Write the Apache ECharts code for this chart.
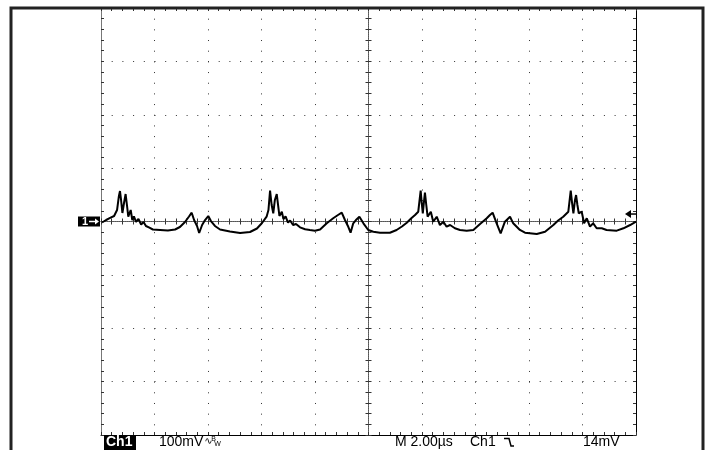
<!DOCTYPE html>
<html>
<head>
<meta charset="utf-8">
<script src="https://cdn.jsdelivr.net/npm/echarts@6/dist/echarts.min.js"></script>
<style>
  html, body { margin: 0; padding: 0; background: #fff; }
  #scope { width: 709px; height: 450px; }
</style>
</head>
<body>
<div id="scope"></div>
<script>
// Channel 1 capture: time in microseconds, voltage in millivolts
const timeUs = [
  0.04, 0.19, 0.34, 0.49, 0.60, 0.67, 0.71, 0.75, 0.80, 0.86,
  0.92, 0.97, 1.02, 1.11, 1.17, 1.23, 1.31, 1.40, 1.50, 1.59,
  1.68, 1.79, 1.94, 2.21, 2.50, 2.77, 2.95, 3.14, 3.29, 3.39,
  3.48, 3.59, 3.67, 3.78, 3.89, 4.01, 4.11, 4.26, 4.45, 4.82,
  5.20, 5.57, 5.83, 6.02, 6.19, 6.26, 6.32, 6.38, 6.44, 6.50,
  6.57, 6.62, 6.67, 6.76, 6.82, 6.90, 6.99, 7.07, 7.18, 7.29,
  7.44, 7.63, 7.81, 8.00, 8.19, 8.44, 8.68, 8.86, 9.00, 9.12,
  9.23, 9.33, 9.43, 9.53, 9.66, 9.81, 9.99, 10.18, 10.43, 10.80,
  11.05, 11.25, 11.43, 11.59, 11.74, 11.86, 11.95, 11.99, 12.03, 12.08,
  12.11, 12.16, 12.21, 12.33, 12.42, 12.55, 12.67, 12.80, 12.92, 13.05,
  13.23, 13.42, 13.67, 13.92, 14.17, 14.42, 14.54, 14.64, 14.79, 14.94,
  15.10, 15.29, 15.41, 15.66, 15.85, 16.29, 16.60, 16.91, 17.09, 17.28,
  17.47, 17.56, 17.61, 17.66, 17.72, 17.76, 17.81, 17.86, 17.97, 18.06,
  18.16, 18.28, 18.40, 18.53, 18.72, 18.90, 19.28, 19.53, 19.78, 20.00
];
const voltsMv = [
  -1.9, 2.8, 6.6, 10.3, 21.5, 47.8, 57.1, 40.3, 15.9, 34.7,
  51.5, 30.9, 9.0, 21.5, 2.8, 9.4, -0.9, 4.7, -5.6, -0.9,
  -8.4, -11.2, -15.0, -15.9, -16.9, -15.0, -10.3, -0.9, 9.4, 16.5,
  2.8, -8.4, -21.5, -6.6, 2.8, 10.3, 0.9, -8.4, -15.0, -18.7,
  -21.5, -19.7, -13.1, -2.8, 9.0, 21.5, 57.7, 30.9, 15.4, 40.3,
  51.5, 30.9, 10.3, 18.4, 4.7, 9.4, -1.9, 1.9, -6.6, -4.7,
  -10.9, -14.6, -15.9, -17.2, -15.0, -3.4, 6.0, 12.2, 16.5, 2.8,
  -8.4, -21.0, -3.4, 2.8, 9.0, -3.4, -15.9, -19.1, -21.0, -21.0,
  -15.9, -9.4, -2.2, 5.6, 12.2, 18.4, 57.7, 34.7, 15.4, 40.3,
  54.0, 30.9, 9.0, 18.4, -0.4, 9.0, -6.6, -0.4, -9.7, -6.6,
  -12.7, -15.9, -17.2, -15.9, -4.7, 6.0, 12.2, 16.5, -3.4, -22.1,
  -0.4, 9.0, -3.4, -15.9, -21.0, -23.4, -19.1, -6.6, 1.9, 9.0,
  18.4, 57.7, 34.7, 15.4, 40.3, 49.6, 30.9, 15.4, 18.4, -3.4,
  6.0, -9.7, -3.4, -12.7, -12.7, -15.9, -17.2, -12.7, -6.6, -0.4
];

// Scope settings shown in the readout
const channelName = 'Ch1';
const voltsPerDiv = 100;   // mV
const timePerDiv = 2;      // µs
const triggerLevel = 14;   // mV
const hDivs = 10;
const vDivs = 8;

const scaleText = voltsPerDiv + 'mV';
const timebaseText = 'M ' + timePerDiv.toFixed(2) + 'µs';
const triggerText = triggerLevel + 'mV';

const GRID = { left: 101, top: 8, width: 535, height: 427 };
const INK = '#333';
const DOT = [1, GRID.height / (vDivs * 5) - 1];
const DOT_H = [1, GRID.width / (hDivs * 5) - 1];

const tMax = hDivs * timePerDiv;
const vMax = vDivs / 2 * voltsPerDiv;

const chart = echarts.init(document.getElementById('scope'), null, { renderer: 'canvas' });

function edgeX(pos, line) {
  return {
    gridIndex: 0, type: 'value', min: 0, max: tMax, interval: timePerDiv, position: pos,
    axisLine: line ? { show: true, onZero: false, lineStyle: { color: '#000', width: 1 } } : { show: false, onZero: false },
    axisTick: { show: true, inside: true, length: 3, lineStyle: { color: INK } },
    minorTick: { show: true, splitNumber: 5, length: 3, lineStyle: { color: INK } },
    axisLabel: { show: false },
    splitLine: { show: pos === 'bottom', lineStyle: { color: INK, width: 1, type: DOT } }
  };
}
function edgeY(pos, color) {
  return {
    gridIndex: 0, type: 'value', min: -vMax, max: vMax, interval: voltsPerDiv, position: pos,
    axisLine: { show: true, onZero: false, lineStyle: { color: color, width: 1 } },
    axisTick: { show: true, inside: true, length: 3, lineStyle: { color: INK } },
    minorTick: { show: true, splitNumber: 5, length: 3, lineStyle: { color: INK } },
    axisLabel: { show: false },
    splitLine: { show: pos === 'left', lineStyle: { color: INK, width: 1, type: DOT_H } }
  };
}
// centre crosshair: one grid with ticks on each side
function crossX(gi, inside) {
  return {
    gridIndex: gi, type: 'value', min: -tMax / 2, max: tMax / 2, interval: timePerDiv / 5,
    axisLine: { show: true, onZero: true, lineStyle: { color: '#555', width: 1, type: [1, 1] } },
    axisTick: { show: true, inside: inside, length: 3, lineStyle: { color: INK } },
    axisLabel: { show: false }, splitLine: { show: false }
  };
}
function crossY(gi, inside) {
  return {
    gridIndex: gi, type: 'value', min: -vMax, max: vMax, interval: voltsPerDiv / 5,
    axisLine: { show: true, onZero: true, lineStyle: { color: '#555', width: 1, type: [1, 1] } },
    axisTick: { show: true, inside: inside, length: 3, lineStyle: { color: INK } },
    axisLabel: { show: false }, splitLine: { show: false }
  };
}

const option = {
  animation: false,
  backgroundColor: '#fff',
  grid: [
    Object.assign({ show: false }, GRID),
    Object.assign({ show: false }, GRID),
    Object.assign({ show: false }, GRID)
  ],
  xAxis: [edgeX('bottom', true), edgeX('top', false), crossX(1, true), crossX(2, false)],
  yAxis: [edgeY('left', '#777'), edgeY('right', '#000'), crossY(1, true), crossY(2, false)],
  series: [{
    type: 'line',
    name: channelName,
    xAxisIndex: 0, yAxisIndex: 0,
    data: timeUs.map((t, i) => [t, voltsMv[i]]),
    showSymbol: false,
    lineStyle: { color: '#000', width: 2 },
    z: 10
  }]
};
chart.setOption(option);

// Reference markers and readout
const zeroY = chart.convertToPixel({ xAxisIndex: 0, yAxisIndex: 0 }, [0, 0])[1];
const trig = chart.convertToPixel({ xAxisIndex: 0, yAxisIndex: 0 }, [tMax, triggerLevel]);
const midY = 442.5;
const font = '14px "Liberation Sans", Arial, sans-serif';

const measureCtx = document.createElement('canvas').getContext('2d');
measureCtx.font = font;
const scaleEnd = 159 + measureCtx.measureText(scaleText).width;

function label(x, text, extra) {
  return Object.assign({ type: 'text', x: x, y: midY, z: 21,
    style: { text: text, fill: '#000', font: font, verticalAlign: 'middle' } }, extra || {});
}

chart.setOption({
  graphic: [
    // instrument frame
    { type: 'rect', shape: { x: 11, y: 8, width: 692, height: 480 },
      style: { fill: null, stroke: '#222', lineWidth: 3 }, z: 20 },
    // channel ground marker
    { type: 'rect', shape: { x: 78, y: zeroY - 5, width: 22, height: 10 }, style: { fill: '#000' }, z: 20 },
    { type: 'text', x: 82, y: zeroY, style: { text: '1', fill: '#fff', font: 'bold 11px "Liberation Sans", Arial, sans-serif', verticalAlign: 'middle' }, z: 21 },
    { type: 'polyline', shape: { points: [[89, zeroY], [97, zeroY]] }, style: { stroke: '#fff', lineWidth: 1.5 }, z: 21 },
    { type: 'polygon', shape: { points: [[99, zeroY], [95, zeroY - 3], [95, zeroY + 3]] }, style: { fill: '#fff' }, z: 21 },
    // trigger level arrow
    { type: 'polyline', shape: { points: [[trig[0] - 7, trig[1]], [trig[0], trig[1]]] }, style: { stroke: '#000', lineWidth: 1.5 }, z: 21 },
    { type: 'polygon', shape: { points: [[trig[0] - 11, trig[1]], [trig[0] - 5, trig[1] - 4], [trig[0] - 5, trig[1] + 4]] }, style: { fill: '#000' }, z: 21 },
    // readout line
    { type: 'rect', shape: { x: 104, y: 436, width: 32, height: 14 }, style: { fill: '#000' }, z: 20 },
    { type: 'text', x: 106, y: midY, style: { text: channelName, fill: '#fff', font: 'bold ' + font, verticalAlign: 'middle' }, z: 21 },
    label(159, scaleText),
    { type: 'text', x: scaleEnd + 1, y: midY - 1, style: { text: '∿', fill: '#000', font: '10px "DejaVu Sans", sans-serif', verticalAlign: 'middle' }, z: 21 },
    { type: 'text', x: scaleEnd + 8, y: midY - 3, style: { text: 'B', fill: '#000', font: '7px "Liberation Sans", sans-serif', verticalAlign: 'middle' }, z: 21 },
    { type: 'text', x: scaleEnd + 11, y: midY + 2, style: { text: 'W', fill: '#000', font: '7px "Liberation Sans", sans-serif', verticalAlign: 'middle' }, z: 21 },
    label(395, timebaseText, { style: { text: timebaseText, fill: '#000', font: font, verticalAlign: 'middle', textLetterSpacing: 0 } }),
    label(470, channelName),
    { type: 'polyline', shape: { points: [[504, 438.5], [509, 438.5], [511, 446], [514, 446]] }, style: { stroke: '#000', lineWidth: 1.5 }, z: 21 },
    label(583, triggerText)
  ]
});
</script>
</body>
</html>
